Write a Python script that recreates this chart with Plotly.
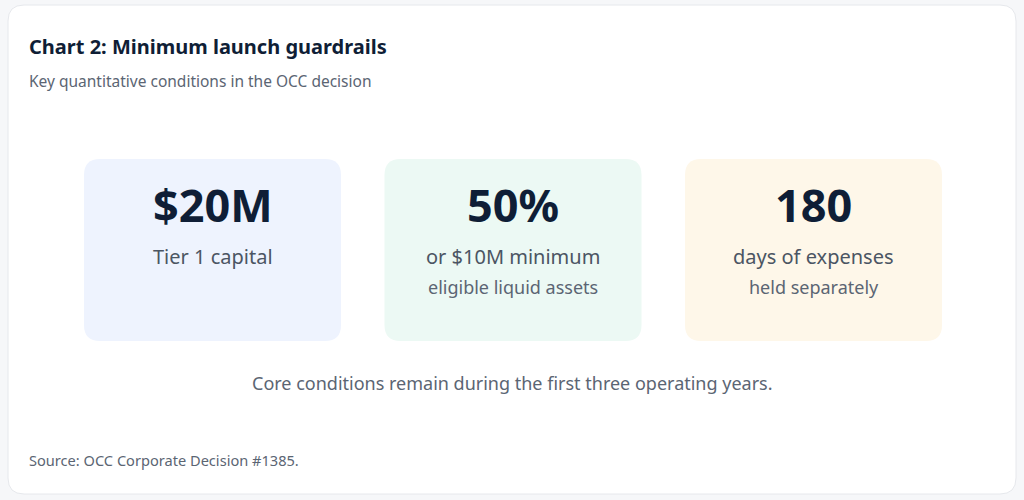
import plotly.graph_objects as go

# ---- data ----
values = ["$20M", "50%", "180"]
labels = ["Tier 1 capital", "or $10M minimum", "days of expenses"]
sublabels = ["", "eligible liquid assets", "held separately"]
tile_colors = ["#eef3fe", "#ecf9f4", "#fef7e9"]

title = "Chart 2: Minimum launch guardrails"
subtitle = "Key quantitative conditions in the OCC decision"
caption = "Core conditions remain during the first three operating years."
source = "Source: OCC Corporate Decision #1385."

FONT = "Noto Sans"
W, H = 1024, 500


def rounded_rect(x0, y0, x1, y1, r):
    return (f"M {x0+r},{y0} L {x1-r},{y0} Q {x1},{y0} {x1},{y0+r} "
            f"L {x1},{y1-r} Q {x1},{y1} {x1-r},{y1} L {x0+r},{y1} "
            f"Q {x0},{y1} {x0},{y1-r} L {x0},{y0+r} Q {x0},{y0} {x0+r},{y0} Z")


fig = go.Figure()
shapes = []
annotations = []

# card
shapes.append(dict(type="path", xref="x", yref="y",
                   path=rounded_rect(8, 5, 1016, 494, 16),
                   fillcolor="#ffffff", line=dict(color="#e6e8ec", width=1),
                   layer="below"))

# title / subtitle
annotations.append(dict(x=27, y=46, text=f"<b>{title}</b>", showarrow=False,
                        xanchor="left", yanchor="middle",
                        font=dict(family=FONT, size=20, color="#0f1e36")))
annotations.append(dict(x=27, y=81, text=subtitle, showarrow=False,
                        xanchor="left", yanchor="middle",
                        font=dict(family=FONT, size=15.5, color="#5b6573")))

tile_w, tile_top, tile_bot = 257, 159, 341
for i, (v, lab, sub, col) in enumerate(zip(values, labels, sublabels, tile_colors)):
    x0 = 84 + i * 300.5
    x1 = x0 + tile_w
    cx = (x0 + x1) / 2
    shapes.append(dict(type="path", xref="x", yref="y",
                       path=rounded_rect(x0, tile_top, x1, tile_bot, 16),
                       fillcolor=col, line=dict(width=0), layer="below"))
    annotations.append(dict(x=cx, y=204, text=f"<b>{v}</b>", showarrow=False,
                            xanchor="center", yanchor="middle",
                            font=dict(family=FONT, size=45, color="#0f1e36", weight=900)))
    annotations.append(dict(x=cx, y=256, text=lab, showarrow=False,
                            xanchor="center", yanchor="middle",
                            font=dict(family=FONT, size=20, color="#4b5563")))
    if sub:
        annotations.append(dict(x=cx, y=287, text=sub, showarrow=False,
                                xanchor="center", yanchor="middle",
                                font=dict(family=FONT, size=18, color="#5b6573")))

annotations.append(dict(x=512, y=383, text=caption, showarrow=False,
                        xanchor="center", yanchor="middle",
                        font=dict(family=FONT, size=18, color="#5b6573")))
annotations.append(dict(x=27, y=460, text=source, showarrow=False,
                        xanchor="left", yanchor="middle",
                        font=dict(family=FONT, size=14.6, color="#5b6573")))

fig.update_layout(
    width=W, height=H,
    margin=dict(l=0, r=0, t=0, b=0),
    paper_bgcolor="#f6f7f9", plot_bgcolor="rgba(0,0,0,0)",
    xaxis=dict(range=[0, W], visible=False, fixedrange=True),
    yaxis=dict(range=[H, 0], visible=False, fixedrange=True),
    shapes=shapes, annotations=annotations, showlegend=False,
)

fig.write_html("out.html", config={"displayModeBar": False},
               post_script="document.body.style.margin='0';document.body.style.overflow='hidden';")
